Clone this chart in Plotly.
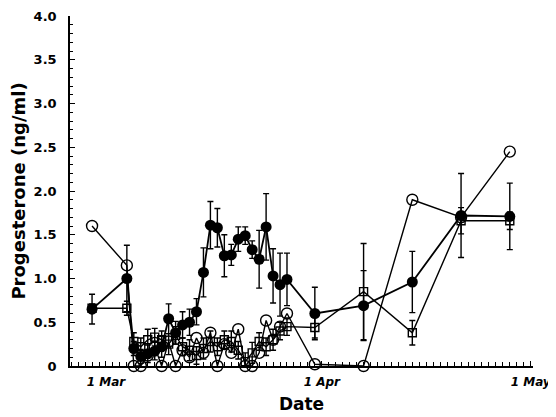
import plotly.graph_objects as go

dates = ["2023-02-27", "2023-03-04",
         "2023-03-05", "2023-03-06", "2023-03-07", "2023-03-08", "2023-03-09",
         "2023-03-10", "2023-03-11", "2023-03-12", "2023-03-13", "2023-03-14",
         "2023-03-15", "2023-03-16", "2023-03-17", "2023-03-18", "2023-03-19",
         "2023-03-20", "2023-03-21", "2023-03-22", "2023-03-23", "2023-03-24",
         "2023-03-25", "2023-03-26", "2023-03-27",
         "2023-03-31", "2023-04-07", "2023-04-14", "2023-04-21", "2023-04-28"]

filled_vals = [0.65, 1.00,
               0.20, 0.11, 0.14, 0.17, 0.22, 0.54, 0.38, 0.47, 0.50, 0.62,
               1.07, 1.61, 1.58, 1.26, 1.27, 1.45, 1.49, 1.33, 1.22, 1.59,
               1.03, 0.93, 0.99,
               0.60, 0.69, 0.96, 1.72, 1.71]
filled_err = [0.17, 0.38,
              0.08, 0.08, 0.10, 0.10, 0.12, 0.17, 0.13, 0.15, 0.15, 0.15,
              0.28, 0.27, 0.22, 0.24, 0.12, 0.14, 0.10, 0.10, 0.33, 0.38,
              0.31, 0.36, 0.30,
              0.30, 0.40, 0.35, 0.48, 0.38]

open_vals = [1.60, 1.15,
             0.0, 0.0, 0.12, 0.22, 0.0, 0.28, 0.0, 0.18, 0.10, 0.32,
             0.15, 0.38, 0.0, 0.25, 0.15, 0.42, 0.0, 0.0, 0.15, 0.52,
             0.30, 0.45, 0.60,
             0.02, 0.0, 1.90, 1.70, 2.45]

square_vals = [0.66, 0.66,
               0.28, 0.22, 0.30, 0.33, 0.30, 0.25, 0.35, 0.22, 0.18, 0.12,
               0.20, 0.28, 0.22, 0.30, 0.28, 0.18, 0.05, 0.15, 0.28, 0.22,
               0.30, 0.40, 0.45,
               0.44, 0.85, 0.38, 1.66, 1.66]
square_err = [0.05, 0.08,
              0.10, 0.10, 0.12, 0.10, 0.10, 0.12, 0.10, 0.10, 0.12, 0.10,
              0.12, 0.12, 0.10, 0.10, 0.12, 0.10, 0.10, 0.12, 0.10, 0.10,
              0.12, 0.10, 0.10,
              0.12, 0.55, 0.14, 0.15, 0.10]

x_tickvals = ["2023-03-01", "2023-04-01", "2023-05-01"]
x_ticktext = ["1 Mar", "1 Apr", "1 May"]
y_tickvals = [0, 0.5, 1.0, 1.5, 2.0, 2.5, 3.0, 3.5, 4.0]
y_ticktext = ["0", "0.5", "1.0", "1.5", "2.0", "2.5", "3.0", "3.5", "4.0"]

FONT = "DejaVu Sans"
eb = dict(type="data", thickness=1.4, width=3, color="black")

fig = go.Figure()
fig.add_trace(go.Scatter(
    x=dates, y=square_vals, mode="lines+markers", cliponaxis=False,
    line=dict(color="black", width=1.4),
    marker=dict(symbol="square-open", size=8, color="black", line=dict(width=1.4)),
    error_y=dict(array=square_err, **eb)))
fig.add_trace(go.Scatter(
    x=dates, y=open_vals, mode="lines+markers", cliponaxis=False,
    line=dict(color="black", width=1.4),
    marker=dict(symbol="circle-open", size=11, color="black", line=dict(width=1.4))))
fig.add_trace(go.Scatter(
    x=dates, y=filled_vals, mode="lines+markers", cliponaxis=False,
    line=dict(color="black", width=1.8),
    marker=dict(symbol="circle", size=11, color="black"),
    error_y=dict(array=filled_err, **eb)))

# page body has an 8px default margin, so the figure is sized to fit after it
fig.update_layout(
    width=548, height=409, showlegend=False,
    paper_bgcolor="white", plot_bgcolor="white",
    margin=dict(l=62, r=23, t=8, b=51),
    font=dict(family=FONT, color="black"),
    xaxis=dict(
        type="date", range=["2023-02-23 20:00", "2023-05-01 08:00"],
        tickvals=x_tickvals, ticktext=x_ticktext,
        tickfont=dict(size=12, weight="bold", style="italic"), ticklabelstandoff=4,
        ticks="inside", ticklen=5, tickwidth=1, tickcolor="black",
        minor=dict(dtick=86400000, ticks="inside", ticklen=4, tickcolor="black", showgrid=False),
        showline=True, linecolor="black", linewidth=1.5,
        showgrid=False, zeroline=False, automargin=False,
        title=dict(text="Date", font=dict(size=17, weight="bold"), standoff=10),
    ),
    yaxis=dict(
        range=[0, 4.0], tickvals=y_tickvals, ticktext=y_ticktext,
        tickfont=dict(size=13, weight="bold"), ticklabelstandoff=9,
        ticks="inside", ticklen=5, tickwidth=1, tickcolor="black",
        minor=dict(dtick=0.1, ticks="inside", ticklen=3, tickcolor="black", showgrid=False),
        showline=True, linecolor="black", linewidth=1.5,
        showgrid=False, zeroline=False, automargin=False,
        title=dict(text="Progesterone (ng/ml)", font=dict(size=18, weight="bold"), standoff=9),
    ),
)

fig.write_html("out.html")
